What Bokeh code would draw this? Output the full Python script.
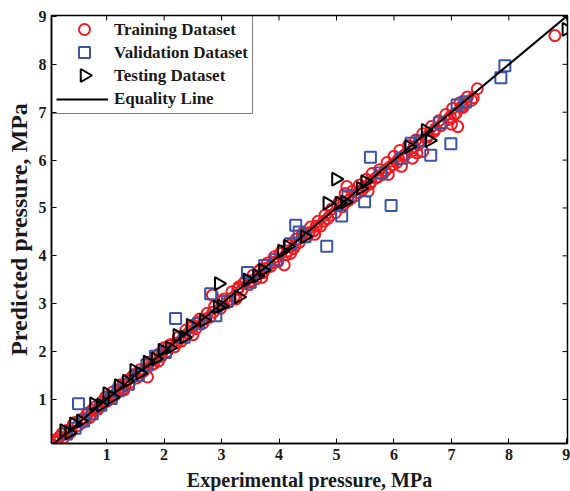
import numpy as np
from bokeh.plotting import figure
from bokeh.models import Legend, LegendItem, FixedTicker, Range1d
from bokeh.embed import file_html
from bokeh.resources import INLINE

# Training dataset (experimental, predicted) in MPa
train_x = [0.05, 0.08, 0.12, 0.18, 0.25, 0.30, 0.38, 0.42, 0.50, 0.55, 0.62, 0.68, 0.72, 0.80, 0.85,
           0.92, 0.98, 1.05, 1.10, 1.15, 1.22, 1.28, 1.35, 1.40, 1.45, 1.52, 1.58, 1.65, 1.71, 1.75,
           1.82, 1.88, 1.95, 2.00, 2.05, 2.12, 2.18, 2.25, 2.30, 2.38, 2.42, 2.50, 2.55, 2.62, 2.68,
           2.75, 2.80, 2.88, 2.84, 2.98, 3.05, 3.10, 3.18, 3.22, 3.30, 3.35, 3.42, 3.48, 3.55, 3.60,
           3.68, 3.72, 3.80, 3.85, 3.92, 3.98, 4.05, 4.09, 4.12, 4.18, 4.25, 4.30, 4.35, 4.42, 4.48,
           4.55, 4.60, 4.68, 4.72, 4.80, 4.85, 4.92, 4.98, 5.05, 5.10, 5.15, 5.20, 5.28, 5.32, 5.40,
           5.45, 5.52, 5.58, 5.62, 5.68, 5.75, 5.80, 5.88, 5.92, 6.00, 6.05, 6.10, 6.13, 6.18, 6.25,
           6.30, 6.32, 6.38, 6.42, 6.50, 6.50, 6.58, 6.65, 6.70, 6.78, 6.82, 6.90, 6.95, 7.02, 7.08,
           7.11, 7.15, 7.20, 7.28, 7.35, 7.45, 8.80,
           0.15, 0.22, 0.35, 0.45, 0.58, 0.65, 0.75, 0.88, 1.00, 1.12, 1.25, 1.32, 1.48, 1.60, 1.78,
           1.92, 2.08, 2.22, 2.35, 2.48, 2.58, 2.72, 2.85, 3.00, 3.15, 3.28, 3.38, 3.52, 3.65, 3.78,
           3.90, 4.02, 4.15, 4.28, 4.40, 4.52, 4.65, 4.78, 4.90, 5.02, 5.12, 5.25, 5.38, 5.50, 5.60,
           5.72, 5.85, 5.98, 6.08, 6.20, 6.35, 6.45, 6.60, 6.72, 6.85, 6.98, 7.05, 7.18, 7.25, 7.38,
           7.00, 6.40, 5.90, 5.55, 5.18, 4.62, 4.20, 3.70, 3.25, 2.50, 1.90, 1.30, 0.70]
train_y = [0.05, 0.15, 0.10, 0.22, 0.20, 0.35, 0.33, 0.48, 0.45, 0.58, 0.60, 0.72, 0.65, 0.84, 0.80,
           0.95, 1.05, 1.00, 1.15, 1.10, 1.30, 1.22, 1.40, 1.35, 1.48, 1.45, 1.62, 1.60, 1.47, 1.78,
           1.75, 1.92, 1.90, 2.08, 2.00, 2.15, 2.10, 2.30, 2.22, 2.45, 2.38, 2.55, 2.48, 2.68, 2.60,
           2.80, 2.72, 2.95, 3.18, 2.90, 3.10, 3.02, 3.25, 3.15, 3.35, 3.28, 3.48, 3.40, 3.60, 3.52,
           3.72, 3.65, 3.85, 3.78, 3.98, 3.88, 4.10, 3.81, 4.02, 4.22, 4.15, 4.35, 4.28, 4.48, 4.40,
           4.60, 4.52, 4.72, 4.62, 4.85, 4.78, 4.98, 4.90, 5.12, 5.02, 5.30, 5.15, 5.35, 5.25, 5.48,
           5.38, 5.60, 5.50, 5.72, 5.62, 5.80, 5.70, 5.95, 5.85, 6.08, 5.95, 6.20, 5.87, 6.10, 6.30,
           6.18, 6.04, 6.42, 6.32, 6.18, 6.55, 6.48, 6.70, 6.60, 6.82, 6.72, 6.95, 6.85, 7.08, 6.98,
           6.70, 7.20, 7.10, 7.32, 7.25, 7.49, 8.60,
           0.18, 0.28, 0.30, 0.52, 0.52, 0.68, 0.78, 0.85, 0.96, 1.08, 1.25, 1.28, 1.52, 1.55, 1.72,
           1.96, 2.12, 2.18, 2.32, 2.50, 2.62, 2.68, 2.82, 3.05, 3.10, 3.30, 3.42, 3.48, 3.68, 3.74,
           3.86, 4.05, 4.10, 4.22, 4.45, 4.48, 4.62, 4.72, 4.85, 5.05, 5.08, 5.20, 5.32, 5.45, 5.55,
           5.65, 5.78, 5.90, 6.02, 6.12, 6.28, 6.40, 6.52, 6.65, 6.78, 6.90, 6.95, 7.12, 7.18, 7.30,
           6.75, 6.15, 5.70, 5.35, 5.45, 4.45, 4.05, 3.55, 3.10, 2.35, 1.80, 1.20, 0.62]

# Validation dataset
valid_x = [0.30, 0.45, 0.51, 0.60, 0.75, 0.90, 1.08, 1.20, 1.38, 1.55, 1.70, 1.85, 2.02, 2.20, 2.35,
           2.60, 2.81, 2.90, 3.10, 3.45, 3.50, 3.75, 3.95, 4.20, 4.29, 4.35, 4.45, 4.83, 5.09, 5.20,
           5.49, 5.59, 5.77, 5.95, 6.14, 6.30, 6.45, 6.64, 6.80, 6.99, 7.10, 7.25, 7.86, 7.93]
valid_y = [0.28, 0.40, 0.91, 0.55, 0.70, 0.88, 1.02, 1.18, 1.32, 1.50, 1.72, 1.90, 1.98, 2.69, 2.30,
           2.58, 3.21, 2.75, 3.05, 3.65, 3.45, 3.80, 3.92, 4.25, 4.64, 4.50, 4.40, 4.20, 4.83, 5.25,
           5.13, 6.06, 5.73, 5.05, 6.04, 6.35, 6.40, 6.10, 6.78, 6.34, 7.15, 7.22, 7.72, 7.97]

# Testing dataset
test_x = [0.26, 0.35, 0.43, 0.55, 0.78, 0.90, 1.01, 1.10, 1.21, 1.35, 1.48, 1.58, 1.71, 1.85, 1.97,
          2.10, 2.23, 2.35, 2.46, 2.69, 2.93, 2.95, 3.00, 3.30, 3.45, 3.62, 3.72, 4.05, 4.15, 4.45,
          4.84, 4.99, 5.05, 5.15, 5.42, 5.50, 6.26, 6.55, 6.62, 9.00]
test_y = [0.35, 0.30, 0.49, 0.55, 0.91, 0.88, 1.12, 1.05, 1.29, 1.38, 1.61, 1.55, 1.78, 1.85, 2.03,
          2.08, 2.34, 2.30, 2.55, 2.65, 2.93, 3.42, 2.95, 3.14, 3.50, 3.58, 3.70, 4.10, 4.20, 4.40,
          5.10, 5.60, 5.10, 5.12, 5.41, 5.55, 6.28, 6.62, 6.41, 8.73]

# Equality line
line_x = [0.0, 9.1]
line_y = [0.0, 9.1]

ticks = [1, 2, 3, 4, 5, 6, 7, 8, 9]
labels = ["Training Dataset", "Validation Dataset", "Testing Dataset", "Equality Line"]

FONT = "Liberation Serif"
RED = "#ED1C24"
BLUE = "#3A55A4"
TXT = "#1a1a1a"

X0, X1 = 0.04, 9.02
Y0, Y1 = 0.08, 9.02
FW, FH = 516, 428
TICK = 5

p = figure(output_backend="svg", toolbar_location=None,
           frame_width=FW, frame_height=FH,
           min_border_left=51, min_border_top=15, min_border_right=3, min_border_bottom=48,
           x_range=Range1d(X0, X1), y_range=Range1d(Y0, Y1),
           x_axis_label="Experimental pressure, MPa", y_axis_label="Predicted pressure, MPa")
p.grid.visible = False
p.outline_line_color = "black"
p.outline_line_width = 1.5
p.background_fill_color = "white"

styles = [
    dict(marker="circle", size=11, angle=0.0, line_color=RED),
    dict(marker="square", size=11, angle=0.0, line_color=BLUE),
    dict(marker="triangle", size=13, angle=-np.pi / 2, line_color="black"),
]

r_train = p.scatter(train_x, train_y, fill_color=None, line_width=2, **styles[0])
r_valid = p.scatter(valid_x, valid_y, fill_color=None, line_width=2, **styles[1])
r_test = p.scatter(test_x, test_y, fill_color=None, line_width=2, **styles[2])
r_line = p.line(line_x, line_y, line_color="black", line_width=2)

for ax in (p.xaxis[0], p.yaxis[0]):
    ax.ticker = FixedTicker(ticks=ticks)
    ax.minor_tick_line_color = None
    ax.major_tick_in = TICK
    ax.major_tick_out = 0
    ax.axis_line_width = 1.5
    ax.major_label_text_font = FONT
    ax.major_label_text_font_style = "bold"
    ax.major_label_text_font_size = "16px"
    ax.major_label_text_color = TXT
    ax.axis_label_text_font = FONT
    ax.axis_label_text_font_style = "bold"
    ax.axis_label_text_color = TXT
    ax.major_label_standoff = 5
p.xaxis[0].axis_label_text_font_size = "20px"
p.xaxis[0].axis_label_standoff = 6
p.yaxis[0].axis_label_text_font_size = "24px"
p.yaxis[0].axis_label_standoff = 4

# inward tick marks on the top and right frame edges
dx = TICK * (X1 - X0) / FW
dy = TICK * (Y1 - Y0) / FH
p.segment(x0=ticks, y0=[Y1] * len(ticks), x1=ticks, y1=[Y1 - dy] * len(ticks),
          line_color="black", line_width=1)
p.segment(x0=[X1] * len(ticks), y0=ticks, x1=[X1 - dx] * len(ticks), y1=ticks,
          line_color="black", line_width=1)

# legend (markers drawn at full size beneath a transparent legend box)
PAD, GW, GH, SP = 4, 52, 20, 3
dummies = [p.scatter([], [], marker="circle", alpha=0) for _ in range(3)]
legend = Legend(items=[
    LegendItem(label=labels[0], renderers=[dummies[0]]),
    LegendItem(label=labels[1], renderers=[dummies[1]]),
    LegendItem(label=labels[2], renderers=[dummies[2]]),
    LegendItem(label=labels[3], renderers=[r_line]),
], location="top_left")
legend.margin = 0
legend.padding = PAD
legend.spacing = SP
legend.glyph_width = GW
legend.glyph_height = GH
legend.label_height = GH
legend.label_standoff = 6
legend.label_text_font = FONT
legend.label_text_font_style = "bold"
legend.label_text_font_size = "17px"
legend.label_text_color = TXT
legend.border_line_color = "black"
legend.border_line_width = 1.5
legend.background_fill_alpha = 0.0
p.add_layout(legend, "center")

px_x = (X1 - X0) / FW
px_y = (Y1 - Y0) / FH
for i, st in enumerate(styles):
    lx = X0 + (PAD + GW / 2 + 3) * px_x
    ly = Y1 - (PAD + i * (GH + SP) + GH / 2) * px_y
    p.scatter([lx], [ly], fill_color=None, line_width=2, **st)

open("out.html", "w").write(file_html(p, INLINE))
